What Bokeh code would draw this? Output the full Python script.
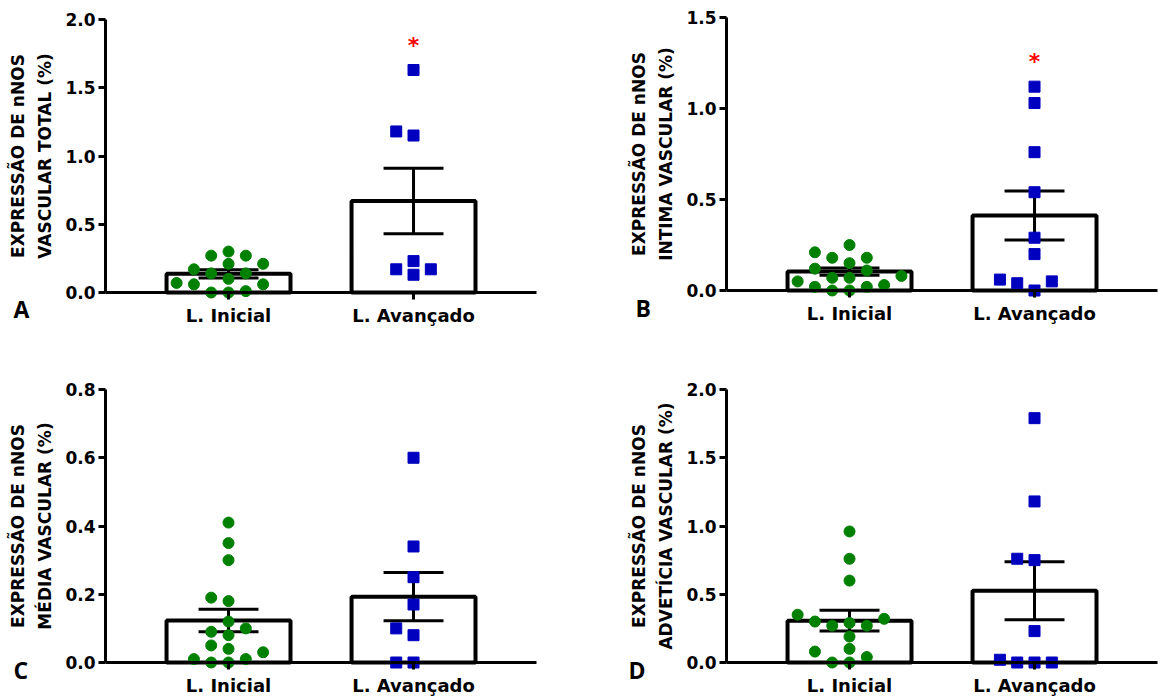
from bokeh.plotting import figure
from bokeh.models import Range1d, FixedTicker, PrintfTickFormatter, Label
from bokeh.layouts import column, row
from bokeh.embed import file_html
from bokeh.resources import INLINE
from bokeh.core.properties import value

categories = ["L. Inicial", "L. Avançado"]

# Panel A - vascular total
a_inicial = [0.30, 0.27, 0.27, 0.21, 0.21, 0.17, 0.14, 0.14, 0.10, 0.06, 0.06, 0.07, 0.01, 0.0, 0.0]
a_avancado = [1.63, 1.18, 1.15, 0.23, 0.17, 0.17, 0.13]
a_mean = [0.137, 0.671]
a_sem = [0.030, 0.240]
a_ticks = [0.0, 0.5, 1.0, 1.5, 2.0]
a_star = [False, True]

# Panel B - intima
b_inicial = [0.25, 0.21, 0.18, 0.18, 0.15, 0.12, 0.11, 0.08, 0.07, 0.07, 0.05, 0.03, 0.02, 0.02, 0.0, 0.0]
b_avancado = [1.12, 1.03, 0.76, 0.54, 0.29, 0.20, 0.06, 0.05, 0.04, 0.0]
b_mean = [0.104, 0.412]
b_sem = [0.020, 0.135]
b_ticks = [0.0, 0.5, 1.0, 1.5]
b_star = [False, True]

# Panel C - media
c_inicial = [0.41, 0.35, 0.30, 0.19, 0.18, 0.12, 0.10, 0.09, 0.08, 0.05, 0.04, 0.03, 0.01, 0.01, 0.0, 0.0]
c_avancado = [0.60, 0.34, 0.25, 0.17, 0.10, 0.08, 0.0, 0.0]
c_mean = [0.123, 0.193]
c_sem = [0.033, 0.071]
c_ticks = [0.0, 0.2, 0.4, 0.6, 0.8]
c_star = [False, False]

# Panel D - adventicia
d_inicial = [0.96, 0.76, 0.60, 0.35, 0.32, 0.30, 0.29, 0.27, 0.27, 0.19, 0.10, 0.08, 0.04, 0.0, 0.0]
d_avancado = [1.79, 1.18, 0.76, 0.75, 0.23, 0.02, 0.0, 0.0, 0.0]
d_mean = [0.306, 0.526]
d_sem = [0.076, 0.213]
d_ticks = [0.0, 0.5, 1.0, 1.5, 2.0]
d_star = [False, False]

GREEN = "#008000"
BLUE = "#0000bf"
FONT = "DejaVu Sans"
PX_X = 185.0      # pixels per category unit
AXIS_H = 273      # pixels from 0 to max tick
X0, X1 = 0.335, 2.665   # extent of the x axis line
SLOT = 17.3       # beeswarm horizontal slot, px
MIN_SEP = 12.0    # px vertical separation inside a slot


def beeswarm(vals, px_y):
    placed = []
    offs = [0.0] * len(vals)
    order = sorted(range(len(vals)), key=lambda i: vals[i])
    for i in order:
        vy = vals[i] * px_y
        k = 0
        while True:
            slot = 0 if k == 0 else ((k + 1) // 2) * (-1 if k % 2 == 1 else 1)
            ok = all(not (s == slot and abs(vy - py) < MIN_SEP) for s, py in placed)
            if ok:
                placed.append((slot, vy))
                offs[i] = slot * SLOT / PX_X
                break
            k += 1
    return offs


def panel(letter, ylabel, ini, ava, means, sems, ticks, stars, width, height,
          axis_left, zero_px, letter_px, letter_py):
    ymax = ticks[-1]
    px_y = AXIS_H / ymax
    xs0 = X0 - axis_left / PX_X
    xs1 = xs0 + width / PX_X
    ys0 = -(height - zero_px) / px_y
    ys1 = zero_px / px_y
    p = figure(width=width, height=height, output_backend="svg", toolbar_location=None,
               title=None, x_range=Range1d(xs0, xs1), y_range=Range1d(ys0, ys1),
               min_border=0, min_border_left=0, min_border_right=0,
               min_border_top=0, min_border_bottom=0)
    p.outline_line_color = None
    p.xgrid.visible = False
    p.ygrid.visible = False
    p.background_fill_color = "white"
    p.border_fill_color = "white"

    xs = [1, 2]
    p.vbar(x=xs, top=means, bottom=0, width=0.67, fill_color="white",
           line_color="black", line_width=4)
    lo = [m - s for m, s in zip(means, sems)]
    hi = [m + s for m, s in zip(means, sems)]
    p.segment(x0=xs, y0=lo, x1=xs, y1=hi, line_color="black", line_width=3)
    cw = 0.162
    p.segment(x0=[x - cw for x in xs], y0=lo, x1=[x + cw for x in xs], y1=lo,
              line_color="black", line_width=3)
    p.segment(x0=[x - cw for x in xs], y0=hi, x1=[x + cw for x in xs], y1=hi,
              line_color="black", line_width=3)

    oi = beeswarm(ini, px_y)
    oa = beeswarm(ava, px_y)
    p.scatter(x=[1 + o for o in oi], y=ini, marker="circle", size=11,
              fill_color=GREEN, line_color=GREEN)
    p.scatter(x=[2 + o for o in oa], y=ava, marker="square", size=11,
              fill_color=BLUE, line_color=BLUE)

    groups = [ini, ava]
    for j, st in enumerate(stars):
        if st:
            sy = max(groups[j]) + 25 / px_y
            p.text(x=[xs[j]], y=[sy], text=["*"], text_color="red",
                   text_font=value(FONT), text_font_size=value("22px"),
                   text_font_style="bold", text_align="center", text_baseline="middle")

    xa = p.xaxis[0]
    xa.fixed_location = 0
    xa.bounds = (X0, X1)
    xa.ticker = FixedTicker(ticks=xs)
    xa.major_label_overrides = {1: categories[0], 2: categories[1]}
    xa.axis_line_width = 3
    xa.major_tick_line_width = 3
    xa.major_tick_out = 7
    xa.major_tick_in = 0
    xa.minor_tick_out = 0
    xa.minor_tick_in = 0
    xa.major_label_standoff = 5
    xa.major_label_text_font = FONT
    xa.major_label_text_font_style = "bold"
    xa.major_label_text_font_size = "18px"
    xa.major_label_text_color = "black"

    ya = p.yaxis[0]
    ya.fixed_location = X0
    ya.bounds = (0, ymax)
    ya.ticker = FixedTicker(ticks=ticks)
    ya.formatter = PrintfTickFormatter(format="%.1f")
    ya.axis_line_width = 3
    ya.major_tick_line_width = 3
    ya.major_tick_out = 7
    ya.major_tick_in = 0
    ya.minor_tick_out = 0
    ya.minor_tick_in = 0
    ya.major_label_standoff = 3
    ya.major_label_text_font = FONT
    ya.major_label_text_font_style = "bold"
    ya.major_label_text_font_size = "17px"
    ya.major_label_text_color = "black"
    ya.axis_label = ylabel
    ya.axis_label_text_font = FONT
    ya.axis_label_text_font_style = "bold"
    ya.axis_label_text_font_size = "17px"
    ya.axis_label_text_color = "black"
    ya.axis_label_text_line_height = 1.35
    ya.axis_label_standoff = 7

    lab = Label(x=xs0 + letter_px / PX_X, y=-letter_py / px_y, text=letter,
                text_font="Open Sans", text_font_style="bold", text_font_size="23px",
                text_color="black", text_align="left", text_baseline="alphabetic")
    p.add_layout(lab)
    return p


pA = panel("A", "EXPRESSÃO DE nNOS\nVASCULAR TOTAL (%)", a_inicial, a_avancado, a_mean, a_sem,
           a_ticks, a_star, 580, 370, 105, 292, 13, 16)
pB = panel("B", "EXPRESSÃO DE nNOS\nINTIMA VASCULAR (%)", b_inicial, b_avancado, b_mean, b_sem,
           b_ticks, b_star, 580, 370, 146, 290, 55, 17)
pC = panel("C", "EXPRESSÃO DE nNOS\nMÉDIA VASCULAR (%)", c_inicial, c_avancado, c_mean, c_sem,
           c_ticks, c_star, 580, 330, 105, 292, 13, 7)
pD = panel("D", "EXPRESSÃO DE nNOS\nADVETÍCIA VASCULAR (%)", d_inicial, d_avancado, d_mean, d_sem,
           d_ticks, d_star, 580, 330, 146, 292, 48, 7)

layout = column(row(pA, pB), row(pC, pD))
open("out.html", "w").write(file_html(layout, INLINE))
